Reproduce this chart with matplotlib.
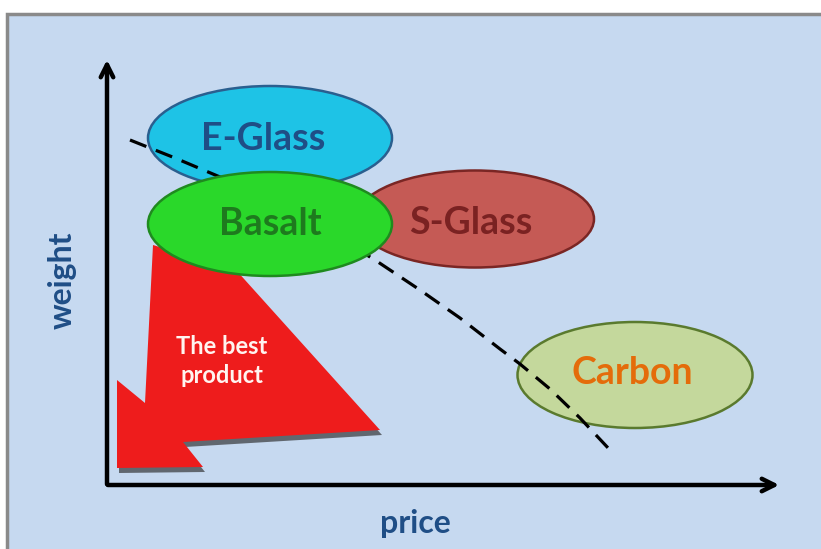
import numpy as np
import matplotlib
matplotlib.use("Agg")
import matplotlib.pyplot as plt
from matplotlib.patches import Ellipse, Polygon, Rectangle

plt.rcParams['font.family'] = ['Lato', 'DejaVu Sans']

# Materials: name, centre (x, y), ellipse width/height, fill, edge, text colour
materials = ["E-Glass", "S-Glass", "Basalt", "Carbon"]
centers_x = [270, 475, 270, 635]
centers_y = [138, 219, 224, 375]
widths = [244, 238, 244, 235]
heights = [104, 97, 104, 106]
fills = ["#1ec3e6", "#c55a55", "#2ad82a", "#c4d89c"]
edges = ["#2a5f8f", "#7a2624", "#1f8a1f", "#5a7a2e"]
text_colors = ["#1f4e86", "#7a2222", "#1e7a1e", "#e46c0a"]
text_offsets_x = [-7, -4, 0, -3]
text_offsets_y = [1, 4, 0, -2]
z_orders = [2, 2, 4, 3]

# Trade-off curve (dashed)
curve_x = [130, 175, 220, 260, 300, 340, 378, 420, 460, 500, 520, 550, 580, 610]
curve_y = [140, 158, 177, 196, 216, 238, 262, 290, 318, 349, 364, 389, 418, 450]

# "The best product" arrow outline
arrow_x = [153, 145, 117, 117, 203, 183, 380, 236]
arrow_y = [245, 403, 380, 468, 467, 442, 430, 270]

W, H = 821, 549
fig = plt.figure(figsize=(W / 100, H / 100), dpi=100)
ax = fig.add_axes([0, 0, 1, 1])
ax.set_xlim(0, W)
ax.set_ylim(H, 0)
ax.axis("off")

# panel background
ax.add_patch(Rectangle((7, 14), W, H, facecolor="#c6d9f0", edgecolor="#8a8a8a",
                       linewidth=2.5, zorder=0))

# axes arrows
ax.annotate("", xy=(107, 57), xytext=(107, 487),
            arrowprops=dict(arrowstyle="->,head_length=0.9,head_width=0.45",
                            color="black", lw=3.2), zorder=1)
ax.annotate("", xy=(782, 485), xytext=(105, 485),
            arrowprops=dict(arrowstyle="->,head_length=0.9,head_width=0.45",
                            color="black", lw=3.2), zorder=1)

ax.text(62, 280, "weight", rotation=90, ha="center", va="center",
        fontsize=23, fontweight="bold", color="#1f4e86")
ax.text(415, 523, "price", ha="center", va="center",
        fontsize=23, fontweight="bold", color="#1f4e86")

# red arrow with shadow
pts = np.column_stack([arrow_x, arrow_y])
ax.add_patch(Polygon(pts + np.array([2, 5]), closed=True, facecolor="#2a2a2a",
                     edgecolor="none", alpha=0.65, zorder=1.5))
ax.add_patch(Polygon(pts, closed=True, facecolor="#ee1c1c",
                     edgecolor="none", zorder=1.6))
ax.text(222, 361, "The best\nproduct", ha="center", va="center",
        fontsize=17, fontweight="bold", color="#fff4f0", linespacing=1.3, zorder=1.7)

# dashed trade-off curve
ax.plot(curve_x, curve_y, color="black", lw=2.3, dashes=(5.5, 3.2), zorder=3.5)

for name, cx, cy, w, h, fc, ec, tc, dx, dy, z in zip(
        materials, centers_x, centers_y, widths, heights, fills, edges,
        text_colors, text_offsets_x, text_offsets_y, z_orders):
    ax.add_patch(Ellipse((cx, cy), w, h, facecolor=fc, edgecolor=ec,
                         linewidth=1.8, zorder=z))
    ax.text(cx + dx, cy + dy, name, ha="center", va="center", fontsize=27,
            fontweight="bold", color=tc, zorder=z + 0.1)

fig.savefig("out.png", dpi=100, facecolor="white")
